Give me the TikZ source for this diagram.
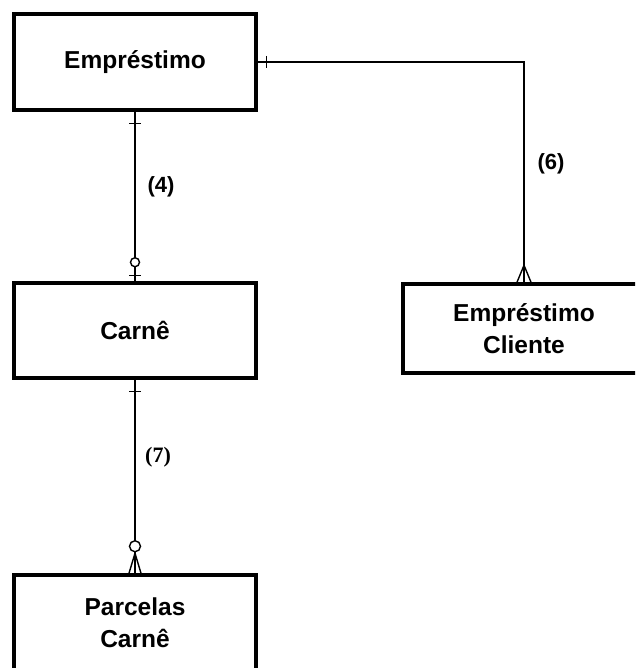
\documentclass[tikz,border=0pt]{standalone}
\usepackage{fontspec}
\setmainfont{Liberation Sans}
\newfontfamily\labelserif{Liberation Serif}
\begin{document}
\begin{tikzpicture}[x=1pt,y=-1pt,
  entity/.style={draw, line width=3.5pt, rectangle, inner sep=0pt,
    minimum width=242pt, align=center,
    font=\fontsize{24.5}{32}\selectfont\bfseries},
  conn/.style={line width=1.4pt},
  rellabel/.style={font=\fontsize{22}{26}\selectfont\bfseries, inner sep=0pt}]
  \clip (0,0) rectangle (635,668);
  \fill[white] (0,0) rectangle (635,668);

  % entities
  \node[entity, minimum height=96pt] (emp) at (135,62) {Empréstimo};
  \node[entity, minimum height=95pt] (carne) at (135,330.5) {Carnê};
  \node[entity, minimum height=89pt] (cli) at (524,328.5) {Empréstimo\\Cliente};
  \node[entity, minimum height=96pt] (parc) at (135,623) {Parcelas\\Carnê};

  % relationship (4): Empréstimo -- Carnê
  \draw[conn] (emp.south) -- (carne.north);
  \draw[conn] ([shift={(-6,12)}]emp.south) -- ([shift={(6,12)}]emp.south);
  \draw[conn] ([shift={(-6,-6)}]carne.north) -- ([shift={(6,-6)}]carne.north);
  \draw[conn, fill=white] ([shift={(0,-19)}]carne.north) circle[radius=4.5pt];
  \node[rellabel] (l4) at (161,187) {(4)};

  % relationship (6): Empréstimo -- Empréstimo Cliente
  \coordinate (bend) at (emp.east -| cli.north);
  \draw[conn] (emp.east) -- (bend) -- (cli.north);
  \draw[conn] ([shift={(9,-6)}]emp.east) -- ([shift={(9,6)}]emp.east);
  \draw[conn] ([shift={(-7,0)}]cli.north) -- ([shift={(0,-17)}]cli.north)
              -- ([shift={(7,0)}]cli.north);
  \node[rellabel] (l6) at (551,164) {(6)};

  % relationship (7): Carnê -- Parcelas Carnê
  \draw[conn] (carne.south) -- (parc.north);
  \draw[conn] ([shift={(-6,12)}]carne.south) -- ([shift={(6,12)}]carne.south);
  \draw[conn] ([shift={(-6,0)}]parc.north) -- ([shift={(0,-20)}]parc.north)
              -- ([shift={(6,0)}]parc.north);
  \draw[conn, fill=white] ([shift={(0,-27)}]parc.north) circle[radius=5.5pt];
  \node[rellabel, font=\fontsize{22}{26}\selectfont\bfseries\labelserif] (l7) at (158,457) {(7)};
\end{tikzpicture}
\end{document}
